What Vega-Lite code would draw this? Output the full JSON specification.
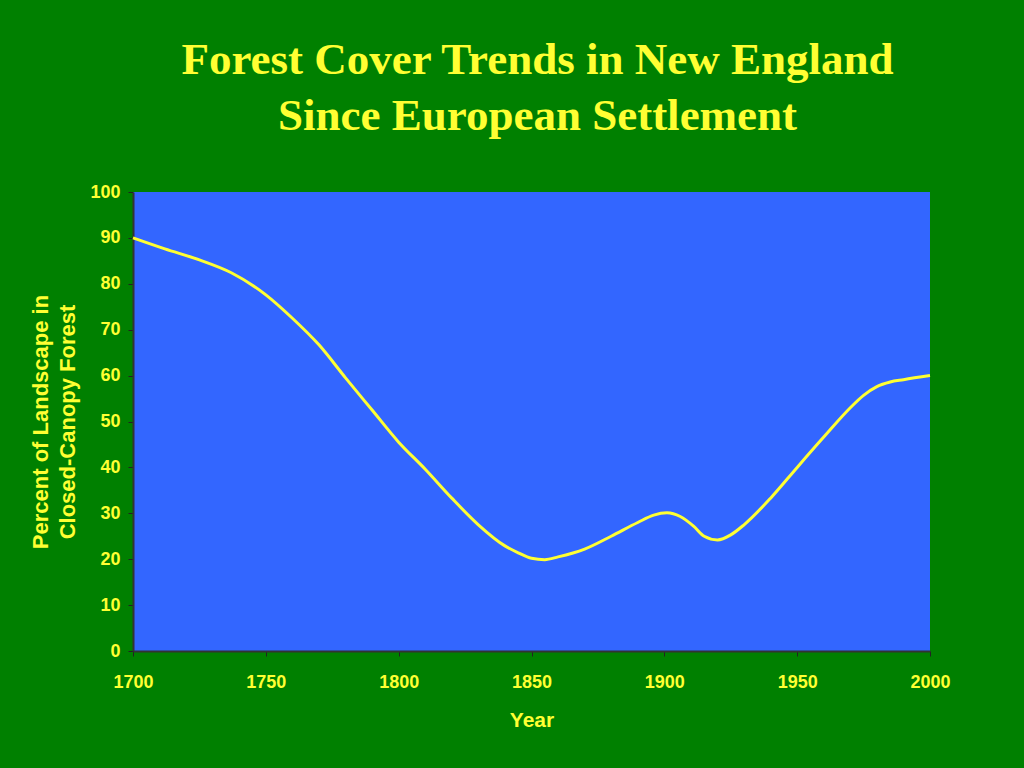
{
  "$schema": "https://vega.github.io/schema/vega-lite/v6.json",
  "autosize": {"type": "none"},
  "padding": {"left": 133, "top": 192, "right": 94, "bottom": 117},
  "width": 797,
  "height": 459,
  "background": "#008000",
  "title": {
    "text": ["Forest Cover Trends in New England", "Since European Settlement"],
    "font": "Liberation Serif",
    "fontSize": 45,
    "fontWeight": "bold",
    "color": "#FFFF33",
    "anchor": "middle",
    "frame": "group",
    "lineHeight": 56,
    "offset": 44,
    "dx": 6
  },
  "config": {
    "view": {"fill": "#3366FF", "stroke": null},
    "axis": {
      "labelFont": "Liberation Sans",
      "labelFontWeight": "bold",
      "labelFontSize": 18,
      "labelColor": "#FFFF33",
      "titleFont": "Liberation Sans",
      "titleFontWeight": "bold",
      "titleFontSize": 21,
      "titleColor": "#FFFF33",
      "domainColor": "#333333",
      "domainWidth": 2,
      "tickColor": "#222222",
      "tickSize": 5,
      "grid": false
    }
  },
  "data": {
    "values": [
      {"year": 1700, "pct": 90},
      {"year": 1712, "pct": 87.6},
      {"year": 1725, "pct": 85.2},
      {"year": 1737, "pct": 82.4},
      {"year": 1750, "pct": 77.6},
      {"year": 1760, "pct": 72.5},
      {"year": 1770, "pct": 66.7},
      {"year": 1780, "pct": 59.5},
      {"year": 1790, "pct": 52.5},
      {"year": 1800, "pct": 45.5},
      {"year": 1810, "pct": 39.6},
      {"year": 1820, "pct": 33.3},
      {"year": 1830, "pct": 27.5},
      {"year": 1840, "pct": 22.9},
      {"year": 1845, "pct": 21.4},
      {"year": 1850, "pct": 20.2},
      {"year": 1855, "pct": 19.9},
      {"year": 1860, "pct": 20.5},
      {"year": 1870, "pct": 22.2},
      {"year": 1880, "pct": 25},
      {"year": 1890, "pct": 28},
      {"year": 1896, "pct": 29.6},
      {"year": 1901, "pct": 30.1},
      {"year": 1906, "pct": 29.3},
      {"year": 1911, "pct": 27.2},
      {"year": 1915, "pct": 25},
      {"year": 1920, "pct": 24.2},
      {"year": 1925, "pct": 25.3},
      {"year": 1930, "pct": 27.5},
      {"year": 1940, "pct": 33.3},
      {"year": 1950, "pct": 40},
      {"year": 1960, "pct": 46.6},
      {"year": 1970, "pct": 53},
      {"year": 1975, "pct": 55.7},
      {"year": 1980, "pct": 57.6},
      {"year": 1985, "pct": 58.6},
      {"year": 1990, "pct": 59.1},
      {"year": 2000, "pct": 60}
    ]
  },
  "mark": {"type": "line", "color": "#FFFF33", "strokeWidth": 3, "interpolate": "monotone"},
  "encoding": {
    "x": {
      "field": "year",
      "type": "quantitative",
      "scale": {"domain": [1700, 2000], "nice": false, "zero": false},
      "axis": {"values": [1700, 1750, 1800, 1850, 1900, 1950, 2000], "format": "d", "title": "Year", "labelPadding": 17, "titlePadding": 18, "labelFlush": false}
    },
    "y": {
      "field": "pct",
      "type": "quantitative",
      "scale": {"domain": [0, 100], "nice": false},
      "axis": {"values": [0, 10, 20, 30, 40, 50, 60, 70, 80, 90, 100], "title": ["Percent of Landscape in", "Closed-Canopy Forest"], "labelPadding": 8, "titlePadding": 10, "titleFontSize": 22, "titleLineHeight": 27}
    }
  }
}
